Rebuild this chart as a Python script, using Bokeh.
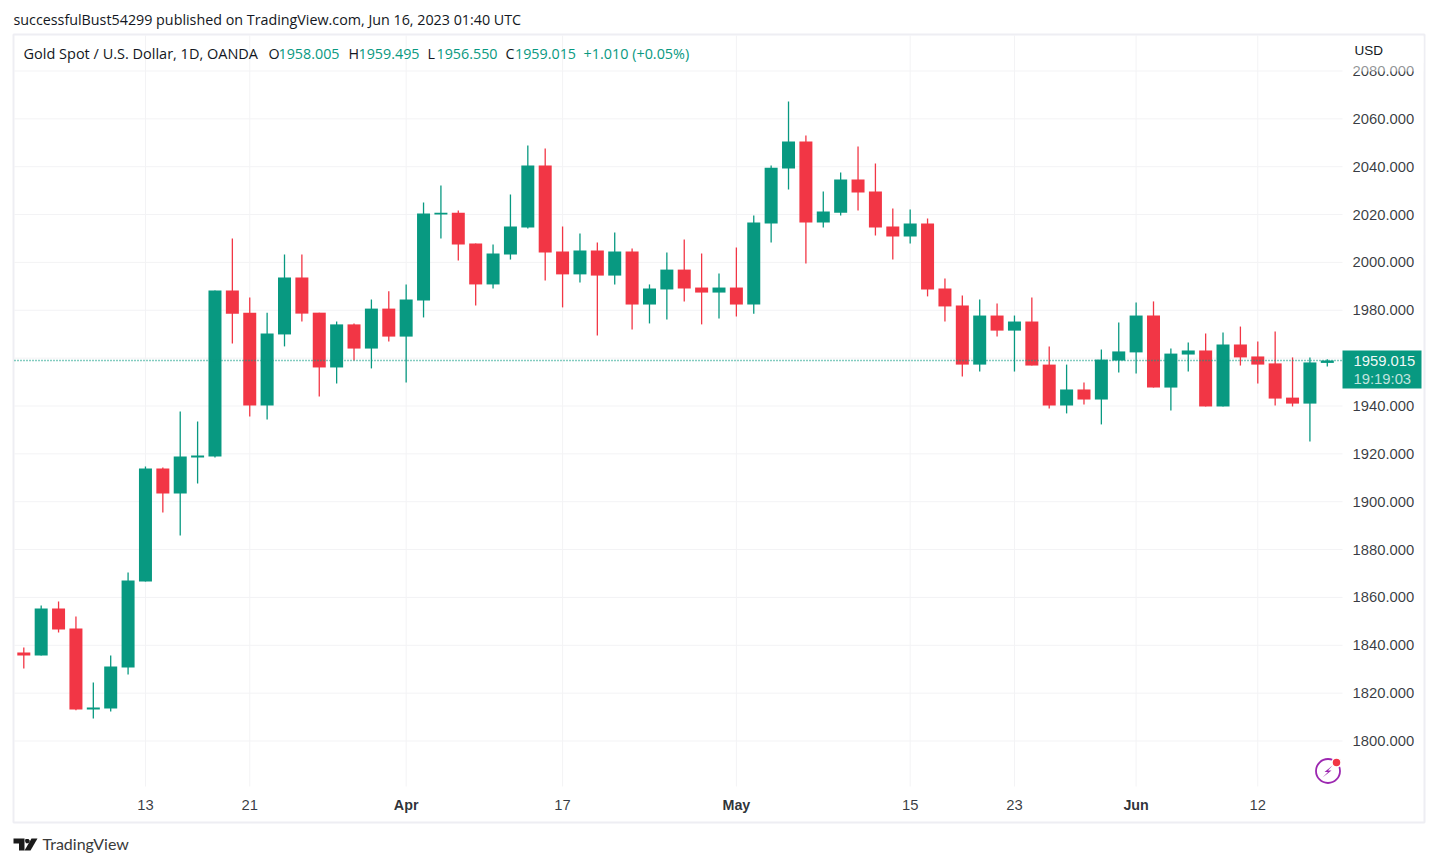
from bokeh.plotting import figure
from bokeh.embed import file_html
from bokeh.resources import INLINE
from bokeh.models import (ColumnDataSource, FixedTicker, NumeralTickFormatter, Label,
                          BoxAnnotation, PolyAnnotation)

opens = [1837.0,1835.7,1855.4,1847.0,1813.2,1813.6,1830.7,1866.7,1913.9,1903.4,1918.5,1918.9,
         1988.3,1979.0,1940.2,1969.9,1993.7,1979.0,1956.1,1974.1,1964.0,1980.7,1969.0,1984.1,
         2020.0,2020.8,2007.9,1990.8,2003.3,2014.6,2040.5,2004.6,1995.0,2005.0,1994.5,2004.6,
         1982.4,1988.7,1997.0,1989.5,1987.4,1989.5,1982.4,2016.3,2039.2,2050.5,2016.7,2020.8,
         2034.6,2029.6,2015.0,2010.8,2016.3,1989.1,1982.0,1957.3,1977.8,1971.5,1975.3,1957.3,
         1940.2,1946.9,1942.7,1959.0,1962.4,1977.8,1947.7,1961.5,1963.2,1939.8,1965.7,1960.7,
         1957.8,1943.5,1941.0,1958.005]
highs = [1839.1,1856.6,1858.3,1852.0,1824.4,1835.7,1870.4,1914.7,1914.3,1937.7,1933.5,1988.3,
         2010.0,1985.3,1979.0,2003.3,2003.3,1979.0,1975.3,1974.5,1984.5,1987.9,1990.8,2025.0,
         2032.1,2021.7,2007.9,2007.5,2028.4,2048.9,2047.6,2015.0,2012.1,2008.3,2012.5,2005.8,
         1990.8,2004.1,2009.6,2003.7,1995.4,2006.2,2019.6,2040.5,2067.2,2053.0,2029.6,2037.6,
         2048.4,2041.3,2022.5,2022.1,2018.4,1993.3,1986.2,1984.5,1982.8,1977.8,1985.3,1964.9,
         1957.3,1949.8,1963.6,1974.9,1983.2,1983.7,1964.0,1966.5,1970.3,1970.7,1973.2,1967.0,
         1971.1,1960.3,1960.3,1959.495]
lows = [1830.3,1835.7,1845.3,1812.8,1809.4,1812.3,1827.8,1866.7,1895.5,1885.9,1907.6,1918.5,
        1966.1,1935.6,1934.4,1964.9,1975.3,1944.0,1949.4,1959.0,1955.7,1966.9,1949.8,1977.0,
        2010.0,2000.8,1982.0,1989.1,2001.2,2014.2,1992.4,1981.2,1991.6,1969.5,1990.8,1972.0,
        1974.5,1976.1,1983.7,1974.1,1976.6,1977.4,1978.6,2008.3,2030.5,1999.5,2014.6,2019.6,
        2021.7,2011.2,2001.2,2007.9,1985.8,1975.3,1952.3,1954.4,1969.0,1954.4,1956.9,1939.0,
        1936.9,1940.6,1932.3,1954.0,1953.6,1947.7,1938.1,1954.4,1939.8,1939.8,1956.9,1949.4,
        1940.2,1939.8,1925.2,1956.55]
closes = [1835.7,1855.4,1846.6,1813.2,1814.0,1831.1,1867.1,1913.9,1903.4,1918.9,1919.3,1988.3,
          1978.6,1940.2,1970.3,1993.7,1978.6,1956.1,1974.1,1964.0,1980.7,1969.0,1984.5,2020.4,
          2020.8,2007.5,1990.8,2003.7,2015.0,2040.5,2004.1,1995.0,2005.0,1994.5,2004.6,1982.4,
          1989.1,1997.0,1989.1,1987.4,1989.5,1982.4,2016.7,2039.6,2050.5,2016.7,2021.3,2034.6,
          2029.2,2014.6,2010.8,2016.3,1988.7,1981.6,1957.3,1977.8,1971.5,1975.3,1956.9,1940.2,
          1946.9,1942.7,1959.4,1962.8,1977.8,1947.7,1961.9,1963.2,1939.8,1965.7,1960.3,1957.3,
          1943.1,1941.0,1958.2,1959.015]
day_index = list(range(len(opens)))
price_ticks = [1800,1820,1840,1860,1880,1900,1920,1940,1960,1980,2000,2020,2040,2060,2080]
time_ticks = [7,13,22,31,41,51,57,64,71]
time_labels = ["13","21","Apr","17","May","15","23","Jun","12"]
bold_labels = {"Apr","May","Jun"}
last_close = closes[-1]

GREEN = "#089981"
RED = "#F23645"
GRID = "#F3F3F5"
BORDER = "#EEEEF3"
INK = "#131722"

W, H = 1429, 858
F_L, F_T, F_R, F_B = 14, 35, 1342, 786   # pane edges, in page pixels

def fx(px):
    return px

def fy(py):
    return H - py

def to_price(py):
    return 2109.455 - 0.4179 * py

def to_day(px):
    return (px - 23.3) / 17.38

up = [c >= o for o, c in zip(opens, closes)]
src = ColumnDataSource(dict(
    x=day_index,
    top=[max(o, c) for o, c in zip(opens, closes)],
    bottom=[min(o, c) for o, c in zip(opens, closes)],
    high=highs, low=lows,
    color=[GREEN if u else RED for u in up],
))

p = figure(width=W, height=H, output_backend="svg", toolbar_location=None,
           x_range=(to_day(0), to_day(W)), y_range=(to_price(H), to_price(0)),
           x_axis_location="below", y_axis_location="right",
           min_border_left=0, min_border_top=0, min_border_right=0, min_border_bottom=0)
p.outline_line_color = None
p.background_fill_color = "white"
p.border_fill_color = "white"

xa, ya = p.xaxis[0], p.yaxis[0]
xa.fixed_location = to_price(F_B)
ya.fixed_location = to_day(F_R)
xa.ticker = FixedTicker(ticks=time_ticks)
xa.major_label_overrides = {t: ("" if l in bold_labels else l) for t, l in zip(time_ticks, time_labels)}
ya.ticker = FixedTicker(ticks=price_ticks)
ya.formatter = NumeralTickFormatter(format="0.000")
for a in (xa, ya):
    a.axis_line_color = None
    a.major_tick_line_color = None
    a.minor_tick_line_color = None
    a.major_label_text_color = INK
    a.major_label_text_alpha = 0.85
    a.major_label_text_font = "Liberation Sans"
    a.major_label_text_font_size = "14.8px"
ya.major_label_standoff = 4
xa.major_label_standoff = 7
p.xgrid.visible = False
p.ygrid.visible = False

# grid lines limited to the price pane
p.segment(x0=time_ticks, x1=time_ticks, y0=[to_price(F_B)] * len(time_ticks),
          y1=[to_price(F_T)] * len(time_ticks), line_color=GRID, line_width=1, level="underlay")
p.segment(x0=[to_day(F_L)] * len(price_ticks), x1=[to_day(F_R)] * len(price_ticks),
          y0=price_ticks, y1=price_ticks, line_color=GRID, line_width=1, level="underlay")

p.segment(x0="x", x1="x", y0="low", y1="high", source=src, line_color="color", line_width=1.3)
p.vbar(x="x", top="top", bottom="bottom", width=0.748, source=src,
       fill_color="color", line_color=None)
p.line(x=[to_day(F_L), to_day(F_R)], y=[last_close, last_close], line_color=GREEN,
       line_width=1.6, line_dash="1 2", level="overlay")

def label(px, py, text, color=INK, size="14.3px", font="Open Sans", style="normal", align="left", alpha=1.0):
    p.add_layout(Label(x=fx(px), y=fy(py), x_units="screen", y_units="screen", text=text,
                       text_color=color, text_font=font, text_font_size=size,
                       text_font_style=style, text_align=align, text_baseline="middle",
                       text_alpha=alpha))

def box(l, t, r, b, **kw):
    p.add_layout(BoxAnnotation(left=fx(l), right=fx(r), top=fy(t), bottom=fy(b),
                               left_units="screen", right_units="screen",
                               top_units="screen", bottom_units="screen", **kw))

def poly(pts, color):
    p.add_layout(PolyAnnotation(xs=[fx(a) for a, _ in pts], ys=[fy(b) for _, b in pts],
                                xs_units="screen", ys_units="screen",
                                fill_color=color, fill_alpha=1, line_color=None))

# outer frame and covers around the price scale
box(13, 34, 1424, 822, fill_color=None, line_color=BORDER, line_alpha=1, line_width=2, level="underlay")
box(1344, 36, 1423, 63, fill_color="white", fill_alpha=1, line_color=None)
box(1344, 63, 1423, 71, fill_color="white", fill_alpha=0.45, line_color=None)
label(1354, 50, "USD", size="13.5px", font="Liberation Sans")

# bold month labels on the time scale
for t, l in zip(time_ticks, time_labels):
    if l in bold_labels:
        p.add_layout(Label(x=t, y=fy(804), x_units="data", y_units="screen", text=l,
                           text_color=INK, text_alpha=0.9, text_font="Liberation Sans",
                           text_font_size="14.3px", text_font_style="bold",
                           text_align="center", text_baseline="middle"))

# last price tag
box(1342, 350, 1421, 388, fill_color=GREEN, fill_alpha=1, line_color=None)
label(1353, 360, "1959.015", color="#FFFFFF", font="Liberation Sans", size="14.8px", alpha=0.95)
label(1353, 378, "19:19:03", color="#FFFFFF", font="Liberation Sans", size="14.8px", alpha=0.75)

# header texts
label(13, 18.5, "successfulBust54299 published on TradingView.com, Jun 16, 2023 01:40 UTC")
label(23, 53, "Gold Spot / U.S. Dollar, 1D, OANDA", size="14.5px")
for lx, letter, vx, val in [(268, "O", 278, "1958.005"), (348, "H", 358, "1959.495"),
                            (427, "L", 436, "1956.550"), (505, "C", 514.5, "1959.015")]:
    label(lx, 53, letter)
    label(vx, 53, val, color=GREEN)
label(583, 53, "+1.010 (+0.05%)", color=GREEN, size="14.4px")

# TradingView logo
poly([(13, 838), (24, 838), (24, 850), (18.5, 850), (18.5, 843), (13, 843)], "#1A1A1A")
poly([(31, 838), (37, 838), (30, 850), (24, 850)], "#1A1A1A")
poly([(25, 838.5), (28, 838.5), (29.5, 840.5), (28, 842.8), (25.5, 842.8), (24.5, 840.5)], "#1A1A1A")
label(42, 843, "TradingView", color="#3A3A3A", size="16px", font="Lato")

# lightning badge
p.scatter(x=[to_day(1327.5)], y=[to_price(770.5)], size=24, marker="circle",
          fill_color=None, line_color="#9C27B0", line_width=1.8)
poly([(1332, 765), (1324, 771.5), (1327.5, 771.5), (1322, 777), (1331, 770), (1327.5, 770)], "#9C27B0")
p.scatter(x=[to_day(1336)], y=[to_price(762)], size=9, marker="circle",
          fill_color=RED, line_color="white", line_width=1.5)

open("out.html", "w").write(file_html(p, INLINE))
